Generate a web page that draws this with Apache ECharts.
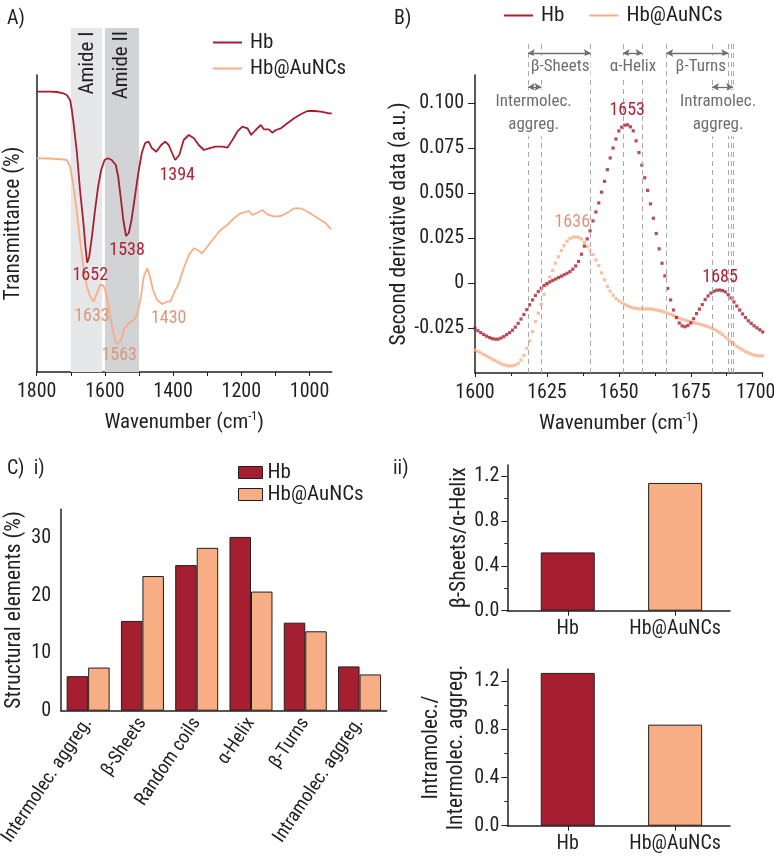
<!DOCTYPE html>
<html><head><meta charset="utf-8">
<script src="https://cdn.jsdelivr.net/npm/echarts@6/dist/echarts.min.js"></script>
<style>html,body{margin:0;padding:0;background:#fff}#c{width:774px;height:859px}</style>
</head><body><div id="c"></div>
<script>
// ---------------- DATA ----------------
// Panel A: FTIR transmittance (arbitrary units), [wavenumber, value]
const ftirHb = [[1800,280.3],[1760,280.3],[1741,280],[1722,278.7],[1712,277],[1702,272],[1697,262],[1692,249],[1682,219],[1673,182],[1663,149],[1657,125],[1652,109.3],[1646,115.3],[1638,135.3],[1630,159],[1620,185.3],[1611,202],[1601,212],[1591,213.7],[1580,212],[1568,207],[1561,195.3],[1554,175.3],[1546,152],[1538,136],[1530,139],[1522,152],[1512,175.3],[1502,199],[1492,219],[1482,229],[1472,230.3],[1462,223.7],[1449,220.3],[1435,227],[1423,230.3],[1413,227],[1403,219],[1394,212],[1382,217],[1369,232],[1354,237],[1339,233.7],[1325,227],[1310,222],[1295,223.7],[1276,225.3],[1256,225.3],[1241,224.3],[1226,232],[1212,240.3],[1197,245.3],[1182,243.7],[1171,237],[1158,242],[1143,247],[1134,242.7],[1119,242.7],[1109,239.3],[1099,242],[1084,243.7],[1065,248.7],[1045,253.7],[1026,257.7],[1006,261],[986,261],[967,260.3],[942,258.7],[935,258.5]];
const ftirAu = [[1800,213.7],[1760,213.5],[1722,212.5],[1712,212],[1702,205.3],[1692,185.3],[1682,159],[1673,132],[1663,105.3],[1653,85.3],[1643,75.3],[1633,70.3],[1623,79],[1614,87],[1606,87],[1599,82],[1589,65.3],[1579,45.3],[1569,30.3],[1563,27.7],[1553,32],[1543,43.7],[1530,48.7],[1516,52],[1506,57],[1496,72],[1486,95.3],[1476,103.7],[1469,97],[1459,82],[1447,72],[1432,68],[1418,70.3],[1408,70.3],[1398,78.7],[1383,88.7],[1369,103.7],[1354,117],[1339,123.7],[1328,122],[1315,118.7],[1300,125.3],[1281,133.7],[1261,142],[1241,147],[1222,153.7],[1202,158.7],[1178,161],[1168,157],[1153,159.3],[1138,162],[1124,157.7],[1104,155.3],[1084,156],[1065,159.3],[1045,163.7],[1026,163.7],[1006,160.3],[986,156],[967,152],[952,148.7],[937,142.7]];
const amideBands = [['Amide I',1700,1608],['Amide II',1600,1500]];
const ftirPeakHb = ['1652','1538','1394'];
const ftirPeakAu = ['1633','1563','1430'];

// Panel B: second derivative, one value per cm-1 from 1600 to 1700
const sdStart = 1600;
const sdHb = [-0.0252,-0.0265,-0.0276,-0.0286,-0.0295,-0.0303,-0.0309,-0.0312,-0.0312,-0.0306,
-0.0298,-0.0287,-0.0276,-0.0262,-0.0245,-0.0224,-0.0200,-0.0175,-0.0148,-0.0121,
-0.0094,-0.0069,-0.0048,-0.0029,-0.0014,-0.0003,0.0006,0.0014,0.0022,0.0030,
0.0038,0.0046,0.0054,0.0063,0.0077,0.0095,0.0120,0.0160,0.0205,0.0245,
0.0290,0.0345,0.0395,0.0445,0.0505,0.0565,0.0630,0.0695,0.0750,0.0800,
0.0845,0.0866,0.0877,0.0879,0.0868,0.0846,0.0790,0.0725,0.0655,0.0585,
0.0515,0.0440,0.0360,0.0275,0.0190,0.0110,0.0040,-0.0030,-0.0094,-0.0150,
-0.0192,-0.0222,-0.0238,-0.0243,-0.0236,-0.0222,-0.0198,-0.0170,-0.0145,-0.0120,
-0.0092,-0.0072,-0.0056,-0.0046,-0.0040,-0.0039,-0.0042,-0.0049,-0.0065,-0.0083,
-0.0105,-0.0128,-0.0150,-0.0172,-0.0192,-0.0210,-0.0224,-0.0238,-0.0249,-0.0260,
-0.0272];
const sdAu = [-0.0372,-0.0380,-0.0388,-0.0397,-0.0406,-0.0415,-0.0424,-0.0431,-0.0440,-0.0449,
-0.0455,-0.0459,-0.0461,-0.0460,-0.0455,-0.0447,-0.0428,-0.0402,-0.0363,-0.0322,
-0.0270,-0.0215,-0.0168,-0.0118,-0.0063,-0.0012,0.0033,0.0070,0.0110,0.0146,
0.0180,0.0208,0.0232,0.0247,0.0254,0.0256,0.0254,0.0245,0.0225,0.0203,
0.0183,0.0158,0.0128,0.0097,0.0056,0.0018,-0.0020,-0.0045,-0.0068,-0.0087,
-0.0100,-0.0110,-0.0120,-0.0127,-0.0133,-0.0138,-0.0141,-0.0143,-0.0144,-0.0144,
-0.0144,-0.0144,-0.0147,-0.0150,-0.0153,-0.0157,-0.0162,-0.0168,-0.0174,-0.0181,
-0.0188,-0.0195,-0.0201,-0.0206,-0.0212,-0.0216,-0.0220,-0.0224,-0.0228,-0.0233,
-0.0238,-0.0243,-0.0249,-0.0257,-0.0265,-0.0275,-0.0287,-0.0300,-0.0313,-0.0327,
-0.0340,-0.0352,-0.0362,-0.0372,-0.0380,-0.0388,-0.0395,-0.0400,-0.0404,-0.0405,
-0.0405];
const sdRegions = [['β-Sheets',1618.4,1640.2],['α-Helix',1651.4,1658.2],['β-Turns',1666.5,1688.0],['Intermolec.\naggreg.',1618.4,1623.1],['Intramolec.\naggreg.',1682.4,1689.7]];
const sdBoundaries = [1618.4,1623.1,1640.2,1651.4,1658.2,1666.5,1682.4,1688.0,1688.9,1689.7];
const sdYTicks = [-0.025,0,0.025,0.05,0.075,0.1];
const sdYTickLabels = ['-0.025','0','0.025','0.050','0.075','0.100'];

// Panel C
const structCats = ['Intermolec. aggreg.','β-Sheets','Random coils','α-Helix','β-Turns','Intramolec. aggreg.'];
const structHb = [6.0,15.6,25.3,30.2,15.3,7.7];
const structAu = [7.5,23.4,28.3,20.7,13.8,6.3];
const ratioCats = ['Hb','Hb@AuNCs'];
const ratioSheetHelix = [0.52,1.14];
const ratioIntraInter = [1.27,0.84];

// ---------------- STYLE ----------------
const FONT = "'Roboto Condensed','Liberation Sans Narrow',sans-serif";
const INK = '#231f20', RED = '#a61f30', SAL = '#f8ae85', SALTXT = '#de967b', REDTXT = '#ad2336', GRAY = '#6d6e71';
const ax = {onZero:false,lineStyle:{color:INK,width:1.5}};
const noSplit = {show:false};
const tStyle = {color:INK,fontFamily:FONT,fontSize:20};
const plain = v => String(v);
const wnName = 'Wavenumber (cm{sup|-1})';
const wnNameStyle = {color:INK,fontFamily:FONT,fontSize:21,lineHeight:26,
  rich:{sup:{fontSize:12,verticalAlign:'top',lineHeight:26,color:INK,fontFamily:FONT,padding:[1,0,0,0]}}};

const chart = echarts.init(document.getElementById('c'));

function peakPoints(labels, coords, color){
  return {symbolSize:0, silent:true, label:{show:true,position:'inside',formatter:'{b}',color:color,fontFamily:FONT,fontSize:18},
    data: labels.map((t,i)=>({name:t, coord:coords[i]}))};
}
const G = (o) => Object.assign({outerBoundsMode:'none',containLabel:false}, o);

const option = {
  animation:false,
  textStyle:{fontFamily:FONT},
  title:[
    {text:'A)',left:2,top:4,textStyle:{fontSize:20,fontWeight:'normal',color:INK,fontFamily:FONT}},
    {text:'B)',left:389,top:4,textStyle:{fontSize:20,fontWeight:'normal',color:INK,fontFamily:FONT}},
    {text:'C)  i)',left:2,top:454,textStyle:{fontSize:20,fontWeight:'normal',color:INK,fontFamily:FONT}},
    {text:'ii)',left:388,top:454,textStyle:{fontSize:20,fontWeight:'normal',color:INK,fontFamily:FONT}}
  ],
  legend:[
    {data:['Hb','Hb@AuNCs'],orient:'vertical',left:213,top:32,icon:'rect',itemWidth:29,itemHeight:2,itemGap:5,selectedMode:false,padding:0,
     itemStyle:{borderWidth:0},textStyle:{fontSize:21,color:INK,fontFamily:FONT,padding:[0,0,0,3]}},
    {data:['Hb','Hb@AuNCs'],orient:'horizontal',left:504,top:5,icon:'rect',itemWidth:29,itemHeight:2,itemGap:25,selectedMode:false,padding:0,
     itemStyle:{borderWidth:0},textStyle:{fontSize:21,color:INK,fontFamily:FONT,padding:[0,0,0,3]}},
    {data:['Hb','Hb@AuNCs'],orient:'vertical',left:238,top:462,icon:'rect',itemWidth:24,itemHeight:12,itemGap:1,selectedMode:false,padding:0,
     itemStyle:{borderWidth:1,borderColor:INK},textStyle:{fontSize:21,color:INK,fontFamily:FONT}}
  ],
  grid:[
    G({left:36.7,top:75,width:295,height:297}),
    G({left:36.7,top:28,width:295,height:344}),
    G({left:475,top:75,width:287.7,height:298}),
    G({left:475,top:40,width:287.7,height:333}),
    G({left:61,top:509.3,width:325.7,height:201.4}),
    G({left:507.3,top:465,width:222.7,height:145.7}),
    G({left:507.3,top:669.3,width:222.7,height:156.4})
  ],
  xAxis:[
    {gridIndex:0,type:'value',min:935,max:1800,inverse:true,axisLine:ax,splitLine:noSplit,
     axisTick:{customValues:[1000,1100,1200,1300,1400,1500,1600,1700,1800],length:4,lineStyle:{color:INK}},
     axisLabel:{customValues:[1000,1200,1400,1600,1800],formatter:plain,margin:10,...tStyle},
     name:wnName,nameLocation:'middle',nameGap:38,nameTextStyle:wnNameStyle},
    {gridIndex:1,type:'value',min:935,max:1800,inverse:true,show:false,splitLine:noSplit},
    {gridIndex:2,type:'value',min:1600,max:1700,interval:25,axisLine:ax,splitLine:noSplit,
     axisTick:{length:4,lineStyle:{color:INK}},minorTick:{show:true,splitNumber:2,length:3,lineStyle:{color:INK}},
     axisLabel:{formatter:v=>v===1700?'{r|1700}':String(v),margin:10,...tStyle,rich:{r:{padding:[0,14,0,0]}}},
     name:wnName,nameLocation:'middle',nameGap:38,nameTextStyle:wnNameStyle},
    {gridIndex:3,type:'value',min:1600,max:1700,show:false,splitLine:noSplit},
    {gridIndex:4,type:'category',data:structCats,axisLine:ax,
     axisTick:{alignWithLabel:true,length:5,lineStyle:{color:INK}},
     axisLabel:{rotate:56,margin:9,...tStyle,fontSize:19}},
    {gridIndex:5,type:'value',min:-0.563,max:1.511,axisLine:ax,splitLine:noSplit,
     axisTick:{customValues:[0,1],length:5,lineStyle:{color:INK}},
     axisLabel:{customValues:[0,1],formatter:v=>ratioCats[Math.round(v)],margin:8,...tStyle}},
    {gridIndex:6,type:'value',min:-0.563,max:1.511,axisLine:ax,splitLine:noSplit,
     axisTick:{customValues:[0,1],length:5,lineStyle:{color:INK}},
     axisLabel:{customValues:[0,1],formatter:v=>ratioCats[Math.round(v)],margin:8,...tStyle}}
  ],
  yAxis:[
    {gridIndex:0,type:'value',min:0,max:297,axisLine:{show:true,...ax},axisTick:{show:false},axisLabel:{show:false},splitLine:noSplit,
     name:'Transmittance (%)',nameLocation:'middle',nameGap:12,nameTextStyle:{...tStyle,fontSize:21.5}},
    {gridIndex:1,type:'value',min:0,max:1,show:false,splitLine:noSplit},
    {gridIndex:2,type:'value',min:-0.05,max:0.1156,axisLine:{show:true,...ax},splitLine:noSplit,
     axisTick:{customValues:sdYTicks,length:7,lineStyle:{color:INK}},
     axisLabel:{customValues:sdYTicks,formatter:v=>sdYTickLabels[sdYTicks.findIndex(t=>Math.abs(t-v)<1e-6)],margin:11,...tStyle},
     name:'Second derivative data (a.u.)',nameLocation:'middle',nameGap:64,nameTextStyle:{...tStyle,fontSize:21.5}},
    {gridIndex:3,type:'value',min:0,max:1,show:false,splitLine:noSplit},
    {gridIndex:4,type:'value',min:0,max:35,axisLine:{show:true,...ax},splitLine:noSplit,
     axisTick:{customValues:[0,10,20,30],length:7,lineStyle:{color:INK}},
     axisLabel:{customValues:[0,10,20,30],formatter:plain,margin:10,...tStyle},
     name:'Structural elements (%)',nameLocation:'middle',nameGap:35,nameTextStyle:{...tStyle,fontSize:21.5}},
    {gridIndex:4,type:'value',position:'left',min:0,max:35,axisLine:{show:false,onZero:false},splitLine:noSplit,
     axisTick:{customValues:[5,15,25],length:4,lineStyle:{color:INK}},axisLabel:{show:false}},
    {gridIndex:5,type:'value',min:0,max:1.3,axisLine:{show:true,...ax},splitLine:noSplit,
     axisTick:{customValues:[0,0.4,0.8,1.2],length:6,lineStyle:{color:INK}},
     axisLabel:{customValues:[0,0.4,0.8,1.2],formatter:v=>v.toFixed(1),margin:8,...tStyle},
     name:'β-Sheets/α-Helix',nameLocation:'middle',nameGap:36,nameTextStyle:{...tStyle,fontSize:21.5}},
    {gridIndex:5,type:'value',position:'left',min:0,max:1.3,axisLine:{show:false,onZero:false},splitLine:noSplit,
     axisTick:{customValues:[0.2,0.6,1.0],length:3,lineStyle:{color:INK}},axisLabel:{show:false}},
    {gridIndex:6,type:'value',min:0,max:1.3,axisLine:{show:true,...ax},splitLine:noSplit,
     axisTick:{customValues:[0,0.4,0.8,1.2],length:6,lineStyle:{color:INK}},
     axisLabel:{customValues:[0,0.4,0.8,1.2],formatter:v=>v.toFixed(1),margin:8,...tStyle},
     name:'Intramolec./\nIntermolec. aggreg.',nameLocation:'middle',nameGap:38,nameTextStyle:{...tStyle,fontSize:21.5,lineHeight:25}},
    {gridIndex:6,type:'value',position:'left',min:0,max:1.3,axisLine:{show:false,onZero:false},splitLine:noSplit,
     axisTick:{customValues:[0.2,0.6,1.0],length:3,lineStyle:{color:INK}},axisLabel:{show:false}}
  ],
  series:[
    // bands (panel A)
    {type:'line',xAxisIndex:1,yAxisIndex:1,data:[],z:1,silent:true,
     markArea:{silent:true,data:amideBands.map((b,i)=>[{xAxis:b[1],yAxis:0,itemStyle:{color:i?'#d1d3d4':'#e6e7e8'}},{xAxis:b[2],yAxis:1}])}},
    {type:'line',xAxisIndex:1,yAxisIndex:1,data:[],z:3,silent:true,
     markPoint:{symbolSize:0,silent:true,label:{show:true,position:'inside',rotate:90,formatter:'{b}',color:INK,fontFamily:FONT,fontSize:21},
       data:[{name:amideBands[0][0],coord:[1651,0.898]},{name:amideBands[1][0],coord:[1550,0.892]}]}},
    // panel A lines
    {name:'Hb',type:'line',xAxisIndex:0,yAxisIndex:0,data:ftirHb,symbol:'none',color:RED,lineStyle:{width:1.8,color:RED},z:4,
     markPoint:peakPoints(ftirPeakHb,[[1643,97],[1535,122],[1388,197]],REDTXT)},
    {name:'Hb@AuNCs',type:'line',xAxisIndex:0,yAxisIndex:0,data:ftirAu,symbol:'none',color:SAL,lineStyle:{width:1.8,color:SAL},z:4,
     markPoint:peakPoints(ftirPeakAu,[[1638,56],[1558,17],[1413,53.7]],SALTXT)},
    // panel B annotations
    {type:'line',xAxisIndex:3,yAxisIndex:3,data:[],z:1,silent:true,
     markLine:{silent:true,symbol:'none',label:{show:false},lineStyle:{type:[5,4],color:'#a7a9ac',width:1},
       data:sdBoundaries.map(v=>({xAxis:v}))}},
    {type:'line',xAxisIndex:3,yAxisIndex:3,data:[],z:2,silent:true,
     markLine:{silent:true,symbol:['arrow','arrow'],symbolSize:[6,7],label:{show:false},lineStyle:{type:'solid',color:GRAY,width:1.3},
       data:sdRegions.map((r,i)=>[{coord:[r[1],i<3?0.961:0.859]},{coord:[r[2],i<3?0.961:0.859]}])},
     markPoint:{symbolSize:0,silent:true,label:{show:true,position:'inside',formatter:'{b}',color:GRAY,fontFamily:FONT,fontSize:17,lineHeight:23,backgroundColor:'#fff',padding:[0,1]},
       data:[{name:sdRegions[0][0],coord:[1629.6,0.919]},{name:sdRegions[1][0],coord:[1654.9,0.919]},{name:sdRegions[2][0],coord:[1678.5,0.919]},
             {name:sdRegions[3][0],coord:[1620.4,0.78]},{name:sdRegions[4][0],coord:[1684.5,0.78]}]}},
    // panel B scatter
    {name:'Hb@AuNCs',type:'scatter',xAxisIndex:2,yAxisIndex:2,symbol:'rect',symbolSize:3.2,color:SAL,itemStyle:{color:SAL},z:3,
     data:sdAu.map((v,i)=>[sdStart+i,v]),
     markPoint:peakPoints(['1636'],[[1633.8,0.0339]],SALTXT)},
    {name:'Hb',type:'scatter',xAxisIndex:2,yAxisIndex:2,symbol:'rect',symbolSize:3.2,color:RED,itemStyle:{color:RED},z:4,
     data:sdHb.map((v,i)=>[sdStart+i,v]),
     markPoint:peakPoints(['1653','1685'],[[1652.9,0.0956],[1685.2,0.0028]],REDTXT)},
    // panel C i
    {name:'Hb',type:'bar',xAxisIndex:4,yAxisIndex:4,data:structHb,barWidth:21.5,barGap:'0%',color:RED,
     itemStyle:{color:RED,borderColor:INK,borderWidth:1}},
    {name:'Hb@AuNCs',type:'bar',xAxisIndex:4,yAxisIndex:4,data:structAu,barWidth:21.5,barGap:'0%',color:SAL,
     itemStyle:{color:SAL,borderColor:INK,borderWidth:1}},
    // panel C ii
    {type:'bar',xAxisIndex:5,yAxisIndex:6,barWidth:54,itemStyle:{borderColor:INK,borderWidth:1},
     data:ratioSheetHelix.map((v,i)=>({value:[i,v],itemStyle:{color:i?SAL:RED}}))},
    {type:'bar',xAxisIndex:6,yAxisIndex:8,barWidth:54,itemStyle:{borderColor:INK,borderWidth:1},
     data:ratioIntraInter.map((v,i)=>({value:[i,v],itemStyle:{color:i?SAL:RED}}))}
  ]
};
chart.setOption(option);
</script></body></html>
